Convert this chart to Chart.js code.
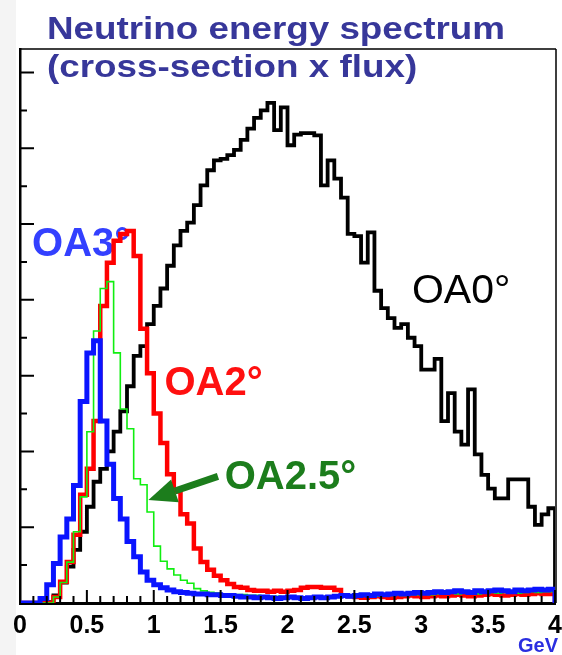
<!DOCTYPE html>
<html>
<head>
<meta charset="utf-8">
<title>Neutrino energy spectrum</title>
<script src="https://cdn.jsdelivr.net/npm/chart.js@4.4.1/dist/chart.umd.min.js"></script>
<style>
  html, body { margin: 0; padding: 0; background: #fff; }
  #wrap { width: 562px; height: 655px; }
</style>
</head>
<body>
<div id="wrap"><canvas id="spectrum" width="562" height="655"></canvas></div>
<script>
// bin edges in GeV (0.05 GeV bins)
const energyEdges = [
  0.00, 0.05, 0.10, 0.15, 0.20, 0.25, 0.30, 0.35, 0.40, 0.45,
  0.50, 0.55, 0.60, 0.65, 0.70, 0.75, 0.80, 0.85, 0.90, 0.95,
  1.00, 1.05, 1.10, 1.15, 1.20, 1.25, 1.30, 1.35, 1.40, 1.45,
  1.50, 1.55, 1.60, 1.65, 1.70, 1.75, 1.80, 1.85, 1.90, 1.95,
  2.00, 2.05, 2.10, 2.15, 2.20, 2.25, 2.30, 2.35, 2.40, 2.45,
  2.50, 2.55, 2.60, 2.65, 2.70, 2.75, 2.80, 2.85, 2.90, 2.95,
  3.00, 3.05, 3.10, 3.15, 3.20, 3.25, 3.30, 3.35, 3.40, 3.45,
  3.50, 3.55, 3.60, 3.65, 3.70, 3.75, 3.80, 3.85, 3.90, 3.95,
  4.00
];

// cross-section x flux, arbitrary units (one unit = one major tick)
const fluxOA0 = [
  0, 0, 0, 0, 0.01, 0.10, 0.27, 0.48, 0.70, 0.94,
  1.27, 1.60, 1.77, 2.00, 2.26, 2.53, 2.86, 3.26, 3.39, 3.68,
  3.92, 4.15, 4.45, 4.72, 4.91, 5.02, 5.25, 5.51, 5.71, 5.84,
  5.86, 5.91, 5.98, 6.11, 6.26, 6.40, 6.50, 6.60, 6.24, 6.54,
  6.04, 6.18, 6.20, 6.20, 6.17, 5.51, 5.84, 5.60, 5.35, 4.87,
  4.84, 4.49, 4.89, 4.12, 3.89, 3.76, 3.63, 3.68, 3.50, 3.39,
  3.08, 3.08, 3.22, 2.40, 2.77, 2.26, 2.09, 2.82, 1.96, 1.69,
  1.51, 1.38, 1.38, 1.63, 1.63, 1.63, 1.27, 1.03, 1.17, 1.25
];
const fluxOA2 = [
  0, 0, 0, 0, 0, 0.08, 0.28, 0.54, 0.90, 1.43,
  1.77, 2.40, 3.92, 4.49, 4.78, 4.87, 4.91, 4.58, 3.62, 3.03,
  2.50, 2.11, 1.70, 1.47, 1.17, 1.05, 0.72, 0.54, 0.44, 0.36,
  0.30, 0.25, 0.21, 0.20, 0.17, 0.16, 0.16, 0.15, 0.16, 0.15,
  0.16, 0.17, 0.20, 0.21, 0.21, 0.20, 0.20, 0.17, 0.10, 0.09,
  0.08, 0.07, 0.08, 0.09, 0.08, 0.07, 0.08, 0.09, 0.10, 0.09,
  0.08, 0.09, 0.10, 0.09, 0.10, 0.11, 0.10, 0.09, 0.10, 0.11,
  0.12, 0.11, 0.10, 0.11, 0.12, 0.11, 0.12, 0.13, 0.12, 0.12
];
const fluxOA25 = [
  0, 0, 0, 0, 0, 0.08, 0.27, 0.54, 0.94, 1.40,
  2.26, 3.59, 4.15, 4.24, 3.30, 2.56, 2.30, 1.64, 1.56, 1.20,
  0.75, 0.55, 0.45, 0.37, 0.30, 0.26, 0.19, 0.16, 0.14, 0.13,
  0.12, 0.12, 0.11, 0.11, 0.10, 0.10, 0.09, 0.09, 0.09, 0.08,
  0.08, 0.08, 0.07, 0.08, 0.08, 0.07, 0.08, 0.08, 0.09, 0.08,
  0.09, 0.09, 0.10, 0.09, 0.10, 0.10, 0.11, 0.10, 0.11, 0.11,
  0.12, 0.11, 0.12, 0.12, 0.13, 0.12, 0.13, 0.13, 0.12, 0.13,
  0.14, 0.13, 0.14, 0.14, 0.13, 0.14, 0.15, 0.14, 0.15, 0.15
];
const fluxOA3 = [
  0, 0, 0, 0.06, 0.24, 0.52, 0.87, 1.11, 1.55, 2.66,
  3.30, 3.46, 2.40, 1.83, 1.38, 1.11, 0.81, 0.61, 0.41, 0.30,
  0.24, 0.20, 0.17, 0.15, 0.14, 0.13, 0.12, 0.12, 0.11, 0.11,
  0.10, 0.10, 0.09, 0.08, 0.08, 0.07, 0.08, 0.07, 0.06, 0.07,
  0.08, 0.07, 0.06, 0.07, 0.08, 0.07, 0.08, 0.09, 0.10, 0.09,
  0.10, 0.11, 0.10, 0.12, 0.11, 0.12, 0.13, 0.12, 0.13, 0.14,
  0.13, 0.14, 0.15, 0.14, 0.15, 0.16, 0.15, 0.14, 0.16, 0.15,
  0.16, 0.17, 0.16, 0.15, 0.17, 0.16, 0.17, 0.18, 0.17, 0.18
];

const xTicks = [0, 0.5, 1, 1.5, 2, 2.5, 3, 3.5, 4];
const xTickLabels = ['0', '0.5', '1', '1.5', '2', '2.5', '3', '3.5', '4'];
const xMinorTicks = [
  0.1, 0.2, 0.3, 0.4, 0.6, 0.7, 0.8, 0.9, 1.1, 1.2, 1.3, 1.4,
  1.6, 1.7, 1.8, 1.9, 2.1, 2.2, 2.3, 2.4, 2.6, 2.7, 2.8, 2.9,
  3.1, 3.2, 3.3, 3.4, 3.6, 3.7, 3.8, 3.9
];
const yMajorTicks = [1, 2, 3, 4, 5, 6, 7];
const yMinorTicks = [0.5, 1.5, 2.5, 3.5, 4.5, 5.5, 6.5];

const FONT = '"Liberation Sans", Arial, Helvetica, sans-serif';

// curve labels, anchored in data coordinates (left edge, baseline)
const curveLabels = [
  { text: 'OA3°', e: 0.09, v: 4.58, color: '#3340ff', weight: 'bold', size: 40 },
  { text: 'OA0°', e: 2.93, v: 3.96, color: '#000000', weight: 'normal', size: 41 },
  { text: 'OA2°', e: 1.08, v: 2.75, color: '#ff1010', weight: 'bold', size: 40 },
  { text: 'OA2.5°', e: 1.53, v: 1.50, color: '#1c7d1c', weight: 'bold', size: 40 }
];
const arrowOA25 = { from: [1.48, 1.67], to: [0.96, 1.36], color: '#1c7d1c' };

function histogram(values) {
  const pts = values.map((v, i) => ({ x: energyEdges[i], y: v }));
  pts.push({ x: energyEdges[values.length], y: 0 });
  return pts;
}

function line(ctx, x1, y1, x2, y2) {
  ctx.moveTo(x1, y1);
  ctx.lineTo(x2, y2);
}

const decorations = {
  id: 'decorations',
  beforeDraw(chart) {
    const ctx = chart.ctx;
    ctx.save();
    ctx.fillStyle = '#ffffff';
    ctx.fillRect(0, 0, chart.width, chart.height);
    ctx.fillStyle = '#f4f4f4';
    ctx.fillRect(0, 0, 16, chart.height);
    ctx.restore();
  },
  beforeDatasetsDraw(chart) {
    const { ctx, scales: { x, y } } = chart;
    ctx.save();
    ctx.textBaseline = 'alphabetic';
    curveLabels.forEach(l => {
      ctx.font = `${l.weight} ${l.size}px ${FONT}`;
      ctx.fillStyle = l.color;
      ctx.fillText(l.text, x.getPixelForValue(l.e), y.getPixelForValue(l.v));
    });
    ctx.restore();
  },
  afterDatasetsDraw(chart) {
    const { ctx, chartArea: a, scales: { x, y } } = chart;
    ctx.save();

    // arrow to the OA2.5 curve
    const x1 = x.getPixelForValue(arrowOA25.from[0]), y1 = y.getPixelForValue(arrowOA25.from[1]);
    const x2 = x.getPixelForValue(arrowOA25.to[0]), y2 = y.getPixelForValue(arrowOA25.to[1]);
    const ang = Math.atan2(y2 - y1, x2 - x1);
    const headLen = 28, headHalf = 12;
    const bx = x2 - headLen * Math.cos(ang), by = y2 - headLen * Math.sin(ang);
    ctx.strokeStyle = arrowOA25.color;
    ctx.fillStyle = arrowOA25.color;
    ctx.lineWidth = 7;
    ctx.beginPath();
    line(ctx, x1, y1, bx, by);
    ctx.stroke();
    ctx.beginPath();
    ctx.moveTo(x2, y2);
    ctx.lineTo(bx + headHalf * Math.sin(ang), by - headHalf * Math.cos(ang));
    ctx.lineTo(bx - headHalf * Math.sin(ang), by + headHalf * Math.cos(ang));
    ctx.closePath();
    ctx.fill();

    // inward tick marks
    ctx.strokeStyle = '#000';
    ctx.lineWidth = 2;
    ctx.beginPath();
    yMajorTicks.forEach(v => { const py = y.getPixelForValue(v); line(ctx, a.left, py, a.left + 14, py); });
    yMinorTicks.forEach(v => { const py = y.getPixelForValue(v); line(ctx, a.left, py, a.left + 7, py); });
    xTicks.forEach(v => { const px = x.getPixelForValue(v); line(ctx, px, a.bottom, px, a.bottom - 13); });
    xMinorTicks.forEach(v => { const px = x.getPixelForValue(v); line(ctx, px, a.bottom, px, a.bottom - 7); });
    ctx.stroke();

    // frame top / right
    ctx.lineWidth = 1.5;
    ctx.beginPath();
    line(ctx, a.left, a.top, a.right + 1, a.top);
    line(ctx, a.right + 1, a.top, a.right + 1, a.bottom);
    ctx.stroke();
    ctx.restore();
  },
  afterDraw(chart) {
    const ctx = chart.ctx;
    ctx.save();
    ctx.fillStyle = '#37379a';
    ctx.font = `bold 32px ${FONT}`;
    ctx.textBaseline = 'alphabetic';
    ctx.scale(1.15, 1);
    ctx.fillText('Neutrino energy spectrum', 47 / 1.15, 39);
    ctx.fillText('(cross-section x flux)', 47 / 1.15, 77);
    ctx.restore();

    ctx.save();
    ctx.fillStyle = '#2a2ee0';
    ctx.font = `bold 20px ${FONT}`;
    ctx.textAlign = 'right';
    ctx.fillText('GeV', 558, 652);
    ctx.restore();
  }
};

new Chart(document.getElementById('spectrum'), {
  type: 'line',
  data: {
    datasets: [
      { label: 'OA3°', data: histogram(fluxOA3), borderColor: '#0a14ff', borderWidth: 5 },
      { label: 'OA2.5°', data: histogram(fluxOA25), borderColor: '#10ee10', borderWidth: 1.6 },
      { label: 'OA2°', data: histogram(fluxOA2), borderColor: '#ff0000', borderWidth: 4.5 },
      { label: 'OA0°', data: histogram(fluxOA0), borderColor: '#000000', borderWidth: 3.8 }
    ]
  },
  options: {
    responsive: false,
    animation: false,
    events: [],
    devicePixelRatio: 1,
    datasets: {
      line: { stepped: 'before', pointRadius: 0, fill: false, tension: 0, borderJoinStyle: 'miter' }
    },
    layout: { padding: { left: 20, top: 49, right: 7, bottom: 6 } },
    scales: {
      x: {
        type: 'linear',
        min: 0,
        max: 4,
        afterBuildTicks: (scale) => { scale.ticks = xTicks.map(v => ({ value: v })); },
        afterFit: (scale) => { scale.paddingLeft = 0; scale.paddingRight = 0; },
        ticks: {
          autoSkip: false,
          maxRotation: 0,
          padding: 8,
          color: '#000',
          font: { family: FONT, size: 25, weight: 'bold' },
          callback: (v) => xTickLabels[xTicks.indexOf(v)]
        },
        grid: { display: false, drawTicks: false },
        border: { display: true, color: '#000', width: 3 }
      },
      y: {
        type: 'linear',
        min: 0,
        max: 7.31,
        ticks: { display: false },
        grid: { display: false, drawTicks: false },
        border: { display: true, color: '#000', width: 2.5 }
      }
    },
    plugins: {
      legend: { display: false },
      tooltip: { enabled: false },
      title: { display: false }
    }
  },
  plugins: [decorations]
});
</script>
</body>
</html>
